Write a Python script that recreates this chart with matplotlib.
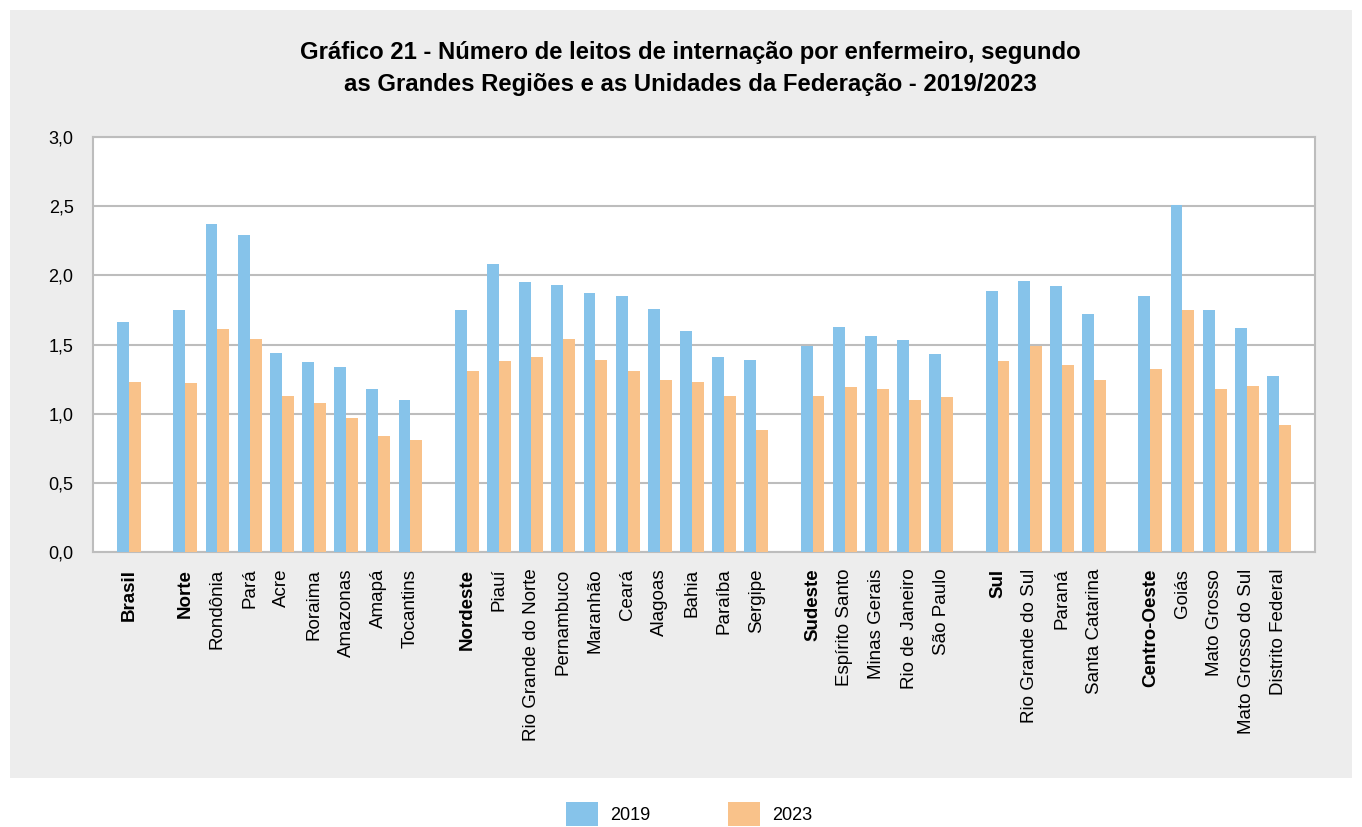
import matplotlib
matplotlib.use("Agg")
import matplotlib.pyplot as plt
from matplotlib.patches import Rectangle, Patch
import numpy as np

plt.rcParams['font.family'] = ['Liberation Sans', 'DejaVu Sans']

groups = [
    ["Brasil"],
    ["Norte", "Rondônia", "Pará", "Acre", "Roraima", "Amazonas", "Amapá", "Tocantins"],
    ["Nordeste", "Piauí", "Rio Grande do Norte", "Pernambuco", "Maranhão", "Ceará",
     "Alagoas", "Bahia", "Paraíba", "Sergipe"],
    ["Sudeste", "Espírito Santo", "Minas Gerais", "Rio de Janeiro", "São Paulo"],
    ["Sul", "Rio Grande do Sul", "Paraná", "Santa Catarina"],
    ["Centro-Oeste", "Goiás", "Mato Grosso", "Mato Grosso do Sul", "Distrito Federal"],
]
bold_labels = ["Brasil", "Norte", "Nordeste", "Sudeste", "Sul", "Centro-Oeste"]

v2019 = [1.66,
         1.75, 2.37, 2.29, 1.44, 1.37, 1.34, 1.18, 1.10,
         1.75, 2.08, 1.95, 1.93, 1.87, 1.85, 1.76, 1.60, 1.41, 1.39,
         1.49, 1.63, 1.56, 1.53, 1.43,
         1.89, 1.96, 1.92, 1.72,
         1.85, 2.51, 1.75, 1.62, 1.27]
v2023 = [1.23,
         1.22, 1.61, 1.54, 1.13, 1.08, 0.97, 0.84, 0.81,
         1.31, 1.38, 1.41, 1.54, 1.39, 1.31, 1.24, 1.23, 1.13, 0.88,
         1.13, 1.19, 1.18, 1.10, 1.12,
         1.38, 1.49, 1.35, 1.24,
         1.32, 1.75, 1.18, 1.20, 0.92]
yticks = [0.0, 0.5, 1.0, 1.5, 2.0, 2.5, 3.0]
ytick_labels = ["0,0", "0,5", "1,0", "1,5", "2,0", "2,5", "3,0"]

labels = [c for g in groups for c in g]
pos = []
x = 0.0
for gi, g in enumerate(groups):
    if gi > 0:
        x += 0.75
    for _ in g:
        pos.append(x)
        x += 1.0
pos = np.array(pos)

c19 = "#86C3EA"
c23 = "#F9C28A"
W, H = 1362, 827
fig = plt.figure(figsize=(W / 100, H / 100), dpi=100)
fig.patches.append(Rectangle((10 / W, 1 - 778 / H), 1342 / W, 768 / H,
                             transform=fig.transFigure, facecolor="#EDEDED",
                             edgecolor="none", zorder=-10))

ax = fig.add_axes([93 / W, 1 - 552 / H, 1222 / W, 415 / H])
ax.set_facecolor("white")
bw = 0.37
ax.bar(pos - bw / 2, v2019, width=bw, color=c19, zorder=3)
ax.bar(pos + bw / 2, v2023, width=bw, color=c23, zorder=3)

ax.set_ylim(0, 3.0)
ax.set_xlim(pos[0] - 1.12, pos[-1] + 1.12)
ax.set_yticks(yticks)
ax.set_yticklabels(ytick_labels, fontsize=13)
ax.yaxis.grid(True, color="#BDBDBD", linewidth=1.5, zorder=0)
ax.set_xticks(pos)
ax.set_xticklabels(labels, rotation=90, fontsize=13.5)
for t in ax.get_xticklabels():
    if t.get_text() in bold_labels:
        t.set_fontweight("bold")
ax.tick_params(axis="x", length=0, pad=12)
ax.tick_params(axis="y", length=0, pad=14)
for s in ax.spines.values():
    s.set_color("#BDBDBD")
    s.set_linewidth(1.5)

fig.text(0.507, 1 - 52 / H, "Gráfico 21 - Número de leitos de internação por enfermeiro, segundo",
         ha="center", va="center", fontsize=17.2, fontweight="bold")
fig.text(0.507, 1 - 84 / H, "as Grandes Regiões e as Unidades da Federação - 2019/2023",
         ha="center", va="center", fontsize=17.2, fontweight="bold")

handles = [Patch(facecolor=c19, edgecolor="none", label="2019"),
           Patch(facecolor=c23, edgecolor="none", label="2023")]
fig.legend(handles=handles, loc="center", bbox_to_anchor=(0.506, 1 - 814 / H), ncol=2,
           frameon=False, fontsize=13, handlelength=1.75, handleheight=1.6,
           columnspacing=4.3, handletextpad=0.7)

fig.savefig("out.png", dpi=100)
